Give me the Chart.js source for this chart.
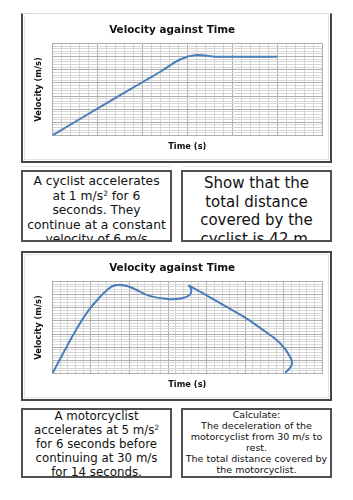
<!DOCTYPE html>
<html><head><meta charset="utf-8">
<script src="https://cdn.jsdelivr.net/npm/chart.js@4"></script>
<style>
html,body{margin:0;padding:0;background:#fff;}
body{width:353px;height:500px;position:relative;overflow:hidden;font-family:"DejaVu Sans",sans-serif;color:#111;}
.frame{position:absolute;box-sizing:border-box;}
.inner{position:absolute;left:1px;top:1px;right:1px;bottom:1px;border:1px solid #e2e2e2;}
.box{position:absolute;box-sizing:border-box;border:2px solid #505050;text-align:center;overflow:hidden;white-space:nowrap;}
.sep{position:absolute;height:1px;background:#e8e8e8;}
canvas{position:absolute;}
sup{font-size:0.6em;line-height:0;vertical-align:0.55em;}
</style></head>
<body>
<div class="frame" style="left:21px;top:13px;width:311px;height:150px;border-left:2px solid #454545;border-right:2px solid #454545;border-bottom:2px solid #454545;border-top:1px solid #dadada;"><div class="inner" style="border-top:none;"></div></div>
<canvas id="c1" width="309" height="148" style="left:22px;top:14px;"></canvas>
<div class="sep" style="left:21px;top:166px;width:151px;"></div>
<div class="sep" style="left:181px;top:166px;width:151px;"></div>

<div class="box" style="left:21px;top:170px;width:151px;height:72px;font-size:12.3px;line-height:14.6px;padding-top:2px;">A cyclist accelerates<br>at 1 m/s<sup>2</sup> for 6<br>seconds. They<br>continue at a constant<br>velocity of 6 m/s</div>
<div class="box" style="left:181px;top:170px;width:151px;height:72px;font-size:15px;line-height:18.7px;padding-top:2px;">Show that the<br>total distance<br>covered by the<br>cyclist is 42 m.</div>

<div class="frame" style="left:21px;top:251px;width:311px;height:150px;border:2px solid #454545;"><div class="inner"></div></div>
<canvas id="c2" width="309" height="148" style="left:22px;top:252px;"></canvas>

<div class="box" style="left:21px;top:408px;width:151px;height:70px;font-size:11.8px;line-height:13.9px;padding-top:0px;">A motorcyclist<br>accelerates at 5 m/s<sup>2</sup><br>for 6 seconds before<br>continuing at 30 m/s<br>for 14 seconds.</div>
<div class="box" style="left:181px;top:408px;width:151px;height:70px;font-size:9.5px;line-height:10.9px;padding-top:0px;">Calculate:<br>The deceleration of the<br>motorcyclist from 30 m/s to<br>rest.<br>The total distance covered by<br>the motorcyclist.</div>

<script>
// ---- Chart 1: cyclist ----
const cyclistTime     = [0, 2, 4, 4.8, 5.7, 6.4, 7.2, 8.5, 10];
const cyclistVelocity = [0, 2.05, 4.05, 4.85, 5.8, 6.12, 6.0, 6.0, 6.0];
const cyclistTimeMax = 12, cyclistTimeMinor = 0.4, cyclistTimeMajor = 2;
const cyclistVelMax = 7, cyclistVelMinor = 0.2, cyclistVelMajor = 1;

// ---- Chart 2: motorcyclist (two pieces meeting at a sharp corner) ----
const motoTimeA     = [0, 1.65, 2.7, 3.8, 4.9, 6.0, 7.0, 8.1, 9.9, 12.4, 15.0, 16.8, 17.85, 17.98, 17.65];
const motoVelocityA = [0, 9.0, 14.6, 20.1, 24.8, 28.5, 31.5, 33.6, 33.1, 29.7, 28.3, 28.6, 30.0, 32.2, 33.5];
const motoTimeB     = [17.65, 19.6, 22.2, 24.8, 27.3, 29.5, 30.8, 31.05, 30.2];
const motoVelocityB = [33.5, 30.4, 26.0, 21.6, 16.6, 11.6, 6.5, 3.4, 0.2];
const motoTimeMax = 35, motoTimeMinor = 1, motoTimeMajor = 5;
const motoVelMax = 35, motoVelMinor = 1, motoVelMajor = 5;

const chartTitle = 'Velocity against Time';
const xTitle = 'Time (s)';
const yTitle = 'Velocity (m/s)';

const LINE = '#4a7ebb', MINOR = '#d6d6d6', MAJOR = '#adadad';
const FONT = '"DejaVu Sans", Verdana, sans-serif';

function tickList(max, step){
  const n = Math.round(max / step), out = [];
  for (let i = 0; i <= n; i++) out.push({value: +(i * step).toFixed(6)});
  return out;
}
function isMajor(v, major){ const r = v / major; return Math.abs(r - Math.round(r)) < 1e-6; }
function pts(xs, ys){ return xs.map((x, i) => ({x: x, y: ys[i]})); }

function axis(max, minor, major, title, horizontal){
  return {
    type: 'linear', min: 0, max: max,
    afterBuildTicks: s => { s.ticks = tickList(max, minor); },
    afterFit: s => { if (horizontal) s.height = 26.5; else s.width = 30.3; },
    ticks: {display: false},
    grid: {
      drawTicks: false, lineWidth: 1,
      color: c => (c.tick && isMajor(c.tick.value, major)) ? MAJOR : MINOR
    },
    border: {display: true, color: MAJOR},
    title: {
      display: true, text: title, color: '#111',
      font: {family: FONT, size: 8.3, weight: 'bold'},
      padding: horizontal ? {top: 0, bottom: 10.5} : {top: 12.3, bottom: 0}
    }
  };
}

function makeChart(id, datasets, xMax, xMin, xMaj, yMax, yMin, yMaj){
  new Chart(document.getElementById(id), {
    type: 'scatter',
    data: {datasets: datasets.map(d => ({
      data: d, showLine: true, borderColor: LINE, backgroundColor: LINE,
      borderWidth: 2, pointRadius: 0, tension: 0.4, fill: false
    }))},
    options: {
      responsive: false, animation: false, devicePixelRatio: 1,
      layout: {padding: {left: 0, right: 8.7, top: 0, bottom: 0}},
      plugins: {
        legend: {display: false}, tooltip: {enabled: false},
        title: {display: true, text: chartTitle, color: '#111',
          font: {family: FONT, size: 10.4, weight: 'bold'},
          padding: {top: 10, bottom: 7}}
      },
      scales: {
        x: axis(xMax, xMin, xMaj, xTitle, true),
        y: axis(yMax, yMin, yMaj, yTitle, false)
      }
    }
  });
}

makeChart('c1', [pts(cyclistTime, cyclistVelocity)],
  cyclistTimeMax, cyclistTimeMinor, cyclistTimeMajor, cyclistVelMax, cyclistVelMinor, cyclistVelMajor);
makeChart('c2', [pts(motoTimeA, motoVelocityA), pts(motoTimeB, motoVelocityB)],
  motoTimeMax, motoTimeMinor, motoTimeMajor, motoVelMax, motoVelMinor, motoVelMajor);
</script>
</body></html>
